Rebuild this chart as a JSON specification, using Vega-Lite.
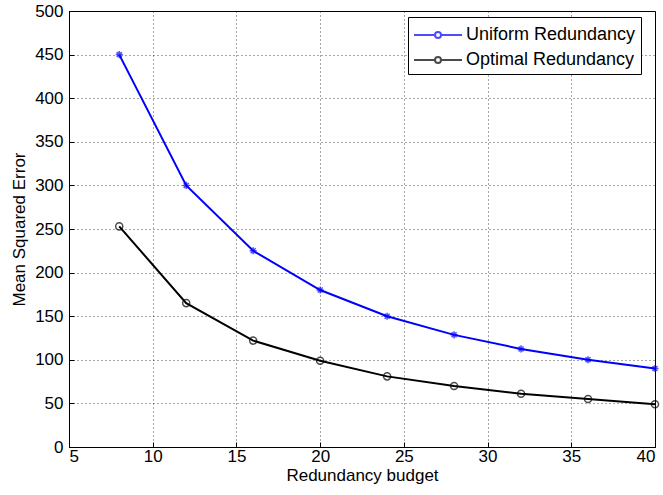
{
  "$schema": "https://vega.github.io/schema/vega-lite/v6.json",
  "width": 586,
  "height": 436,
  "autosize": "none",
  "padding": {"left": 69, "top": 11, "right": 8, "bottom": 48},
  "background": "white",
  "config": {
    "font": "Liberation Sans",
    "view": {"stroke": "black", "strokeWidth": 1}
  },
  "data": {
    "values": [
      {"budget": 8, "mse": 450, "series": "Uniform Redundancy", "marker": "star"},
      {"budget": 12, "mse": 300, "series": "Uniform Redundancy", "marker": "star"},
      {"budget": 16, "mse": 225, "series": "Uniform Redundancy", "marker": "star"},
      {"budget": 20, "mse": 180, "series": "Uniform Redundancy", "marker": "star"},
      {"budget": 24, "mse": 150, "series": "Uniform Redundancy", "marker": "star"},
      {"budget": 28, "mse": 128.6, "series": "Uniform Redundancy", "marker": "star"},
      {"budget": 32, "mse": 112.5, "series": "Uniform Redundancy", "marker": "star"},
      {"budget": 36, "mse": 100, "series": "Uniform Redundancy", "marker": "star"},
      {"budget": 40, "mse": 90, "series": "Uniform Redundancy", "marker": "star"},
      {"budget": 8, "mse": 253, "series": "Optimal Redundancy", "marker": "circle"},
      {"budget": 12, "mse": 165, "series": "Optimal Redundancy", "marker": "circle"},
      {"budget": 16, "mse": 122, "series": "Optimal Redundancy", "marker": "circle"},
      {"budget": 20, "mse": 99, "series": "Optimal Redundancy", "marker": "circle"},
      {"budget": 24, "mse": 81, "series": "Optimal Redundancy", "marker": "circle"},
      {"budget": 28, "mse": 70, "series": "Optimal Redundancy", "marker": "circle"},
      {"budget": 32, "mse": 61, "series": "Optimal Redundancy", "marker": "circle"},
      {"budget": 36, "mse": 55, "series": "Optimal Redundancy", "marker": "circle"},
      {"budget": 40, "mse": 49, "series": "Optimal Redundancy", "marker": "circle"}
    ]
  },
  "encoding": {
    "x": {
      "field": "budget", "type": "quantitative",
      "scale": {"domain": [5, 40], "nice": false, "zero": false},
      "axis": {
        "title": "Redundancy budget", "values": [5,10,15,20,25,30,35,40],
        "grid": true, "gridDash": [1, 3], "gridColor": "black", "gridOpacity": 0.7,
        "domainColor": "black", "tickColor": "black", "tickSize": -5,
        "labelFontSize": 17, "labelColor": "black", "labelPadding": 6,
        "titleFontSize": 17, "titleFontWeight": "normal", "titleColor": "black", "titlePadding": 3
      }
    },
    "y": {
      "field": "mse", "type": "quantitative",
      "scale": {"domain": [0, 500], "nice": false},
      "axis": {
        "title": "Mean Squared Error", "values": [0,50,100,150,200,250,300,350,400,450,500],
        "grid": true, "gridDash": [1, 3], "gridColor": "black", "gridOpacity": 0.7,
        "domainColor": "black", "tickColor": "black", "tickSize": -5,
        "labelFontSize": 17, "labelColor": "black", "labelPadding": 11,
        "titleFontSize": 17, "titleFontWeight": "normal", "titleColor": "black", "titlePadding": 6
      }
    },
    "color": {
      "field": "series", "type": "nominal",
      "scale": {"domain": ["Uniform Redundancy", "Optimal Redundancy"], "range": ["#0000ff", "black"]},
      "legend": {
        "title": null, "orient": "none", "legendX": 339, "legendY": 6,
        "labelFontSize": 18, "labelColor": "black", "labelLimit": 300, "labelOffset": 27,
        "strokeColor": "black", "fillColor": "white", "padding": 5,
        "symbolType": "M-1,0L0.75,0M1.25,0L3,0M1.25,0A0.25,0.25 0 1 1 0.75,0A0.25,0.25 0 1 1 1.25,0",
        "symbolSize": 576, "symbolStrokeWidth": 2, "symbolFillColor": "transparent", "rowPadding": 3
      }
    }
  },
  "layer": [
    {"mark": {"type": "line", "strokeWidth": 2}},
    {
      "mark": {"type": "point", "filled": false, "size": 50, "strokeWidth": 1.5},
      "encoding": {
        "shape": {
          "field": "marker", "type": "nominal",
          "scale": {"domain": ["star", "circle"], "range": ["M-1,0L1,0M0,-1L0,1M-0.7,-0.7L0.7,0.7M-0.7,0.7L0.7,-0.7", "circle"]},
          "legend": null
        }
      }
    }
  ]
}
